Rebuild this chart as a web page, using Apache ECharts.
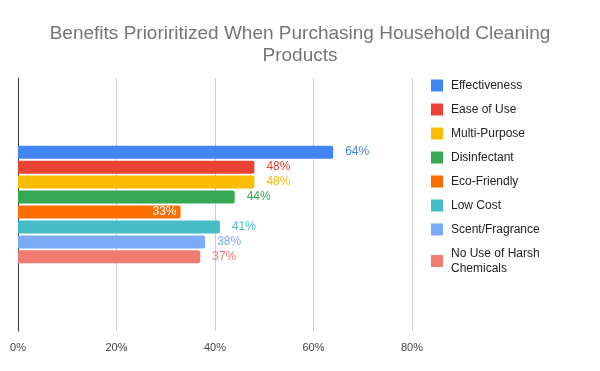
<!DOCTYPE html>
<html><head><meta charset="utf-8">
<script src="https://cdn.jsdelivr.net/npm/echarts@6/dist/echarts.min.js"></script>
<style>html,body{margin:0;padding:0;background:#fff}#c{width:600px;height:371px}</style>
</head><body><div id="c"></div>
<script>
const titleText = 'Benefits Prioriritized When Purchasing Household Cleaning\nProducts';
const categories = [''];
const seriesNames = ['Effectiveness','Ease of Use','Multi-Purpose','Disinfectant','Eco-Friendly','Low Cost','Scent/Fragrance','No Use of Harsh Chemicals'];
const seriesValues = [64, 48, 48, 44, 33, 41, 38, 37];
const colors = ['#4285f4','#ea4335','#fbbc04','#34a853','#ff6d01','#46bdc6','#7baaf7','#f07b72'];
const xTicks = [0, 20, 40, 60, 80];

const chart = echarts.init(document.getElementById('c'));
const series = seriesNames.map((n, i) => ({
  name: n,
  type: 'bar',
  data: [seriesValues[i]],
  barWidth: 13,
  barGap: '15%',
  itemStyle: { color: colors[i], borderRadius: [0, 2, 2, 0] },
  label: i === 4 ? {
    show: true, position: 'insideRight', distance: 4, formatter: '{c}%',
    color: '#fff', fontSize: 12, fontFamily: 'Liberation Sans, Arial, sans-serif'
  } : {
    show: true, position: 'right', distance: 12, formatter: '{c}%',
    color: colors[i], fontSize: 12, fontFamily: 'Liberation Sans, Arial, sans-serif'
  }
}));
chart.setOption({
  animation: false,
  color: colors,
  title: {
    text: titleText, left: 'center', top: 18,
    textStyle: { color: '#757575', fontSize: 19, fontWeight: 'normal', fontFamily: 'Liberation Sans, Arial, sans-serif', lineHeight: 22 }
  },
  legend: {
    orient: 'vertical', left: 431, top: 78, padding: 0, itemWidth: 12, itemHeight: 12, itemGap: 9,
    icon: 'rect',
    formatter: n => n === 'No Use of Harsh Chemicals' ? 'No Use of Harsh\nChemicals' : n,
    textStyle: { color: '#222', fontSize: 12, fontFamily: 'Liberation Sans, Arial, sans-serif', padding: [0,0,0,3], lineHeight: 15 }
  },
  grid: { left: 18, right: 188, top: 78, bottom: 40, containLabel: false },
  xAxis: {
    type: 'value', min: xTicks[0], max: xTicks[xTicks.length-1], interval: 20,
    axisLabel: { formatter: '{value}%', color: '#444', fontSize: 11, fontFamily: 'Liberation Sans, Arial, sans-serif', margin: 11 },
    splitLine: { lineStyle: { color: '#ccc' } },
    axisLine: { show: false }, axisTick: { show: false }
  },
  yAxis: {
    type: 'category', data: categories, inverse: true,
    axisLine: { show: true, lineStyle: { color: '#333' } },
    axisTick: { show: false }, axisLabel: { show: false }
  },
  series: series
});
</script></body></html>
